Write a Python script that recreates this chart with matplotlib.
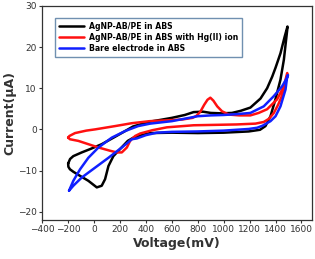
import matplotlib
matplotlib.use('Agg')
import matplotlib.pyplot as plt

# AgNP-AB/PE in ABS (black): forward branch then reverse branch
black_x = [-200, -185, -160, -95, -31, 59, 162, 240, 300, 433, 510, 600, 700, 768, 840, 900, 980,
           1064, 1130, 1206, 1284, 1335, 1374, 1400, 1438, 1470, 1492,
           1490, 1464, 1438, 1399, 1361, 1322, 1280, 1193, 1000, 800,
           600, 433, 380, 304, 260, 188, 149, 111, 85, 59, 21, -44, -108, -160, -186, -198, -200]
black_y = [-8.3, -7.2, -6.5, -5.6, -4.8, -3.6, -1.8, -0.4, 0.7, 1.9, 2.3, 2.8, 3.5, 4.2, 4.3, 4.0, 3.9,
           4.0, 4.5, 5.3, 7.5, 10.0, 12.8, 15.0, 18.5, 22.5, 25.0,
           24.2, 16.9, 12.1, 7.3, 3.2, 0.8, -0.1, -0.5, -0.8, -0.9,
           -0.8, -0.9, -1.3, -2.0, -2.8, -5.2, -6.5, -8.9, -12.1, -13.7, -14.1, -12.5, -11.3, -10.3, -9.7, -9.1, -8.3]

# AgNP-AB/PE in ABS with Hg(II) ion (red)
red_x = [-200, -190, -147, -60, 8, 162, 291, 430, 562, 680, 760, 790, 820, 850, 875,
         897, 920, 950, 987, 1039, 1120, 1206, 1270, 1335, 1412, 1464, 1490,
         1490, 1470, 1451, 1420, 1387, 1350, 1309, 1245, 1100, 936, 768, 562, 450, 356, 317,
         278, 253, 214, 175, 124, 34, -44, -121, -186, -200]
red_y = [-2.0, -1.6, -0.9, -0.3, 0.0, 0.8, 1.5, 2.0, 2.2, 2.4, 2.8, 3.3, 4.3, 6.0, 7.2,
         7.7, 7.0, 5.6, 4.4, 3.6, 3.4, 3.4, 4.0, 4.9, 7.3, 10.5, 13.7,
         13.0, 10.5, 8.3, 6.0, 4.0, 2.6, 1.8, 1.4, 1.2, 1.1, 1.0, 0.5, -0.2, -1.0, -1.6,
         -2.8, -4.4, -5.6, -5.6, -5.2, -4.4, -3.6, -2.8, -2.4, -2.0]

# Bare electrode in ABS (blue)
blue_x = [-193, -160, -108, -44, 34, 137, 240, 340, 433, 600, 700, 800,
          900, 1000, 1100, 1206, 1309, 1387, 1451, 1490, 1496,
          1490, 1477, 1438, 1400, 1361, 1300, 1258, 1193, 1000, 800, 600, 485, 400, 330,
          291, 214, 111, 8, -95, -160, -193]
blue_y = [-14.9, -12.5, -9.7, -6.9, -4.4, -2.0, -0.4, 0.8, 1.4, 2.0, 2.6, 3.2,
          3.4, 3.5, 3.7, 4.0, 5.6, 8.1, 10.5, 12.6, 13.2,
          12.9, 9.7, 5.6, 3.2, 2.0, 0.9, 0.4, 0.1, -0.3, -0.5, -0.6, -0.8, -1.4, -2.2,
          -2.4, -4.4, -6.9, -9.3, -11.7, -13.7, -14.9]

fig = plt.figure(figsize=(3.15, 2.59), dpi=100)
ax = fig.add_axes([0.134, 0.151, 0.856, 0.826])

style = dict(lw=1.8, solid_joinstyle='round', solid_capstyle='round')
ax.plot(black_x, black_y, color='black', label='AgNP-AB/PE in ABS', **style)
ax.plot(red_x, red_y, color='#ff1010', label='AgNP-AB/PE in ABS with Hg(II) ion', **style)
ax.plot(blue_x, blue_y, color='#1020ff', label='Bare electrode in ABS', **style)

ax.set_xlim(-400, 1680)
ax.set_ylim(-22, 30)
ax.set_xticks(range(-400, 1601, 200))
ax.set_yticks(range(-20, 31, 10))
ax.tick_params(labelsize=6.5, colors='#333333', length=2.5, width=0.8, pad=1.5)
for s in ax.spines.values():
    s.set_linewidth(0.9)
    s.set_color('#333333')

ax.set_xlabel('Voltage(mV)', fontsize=9, fontweight='bold', color='#333333', labelpad=2)
ax.set_ylabel('Current(\u03bcA)', fontsize=9, fontweight='bold', color='#333333', labelpad=1)

leg = ax.legend(loc='upper left', bbox_to_anchor=(0.048, 0.944), borderaxespad=0,
                prop={'weight': 'bold', 'size': 5.6}, handlelength=3.2,
                handletextpad=0.6, labelspacing=0.25, borderpad=0.5,
                fancybox=False, framealpha=1)
leg.get_frame().set_edgecolor('#7090b0')
leg.get_frame().set_linewidth(1.0)

fig.savefig('out.png', dpi=100)
